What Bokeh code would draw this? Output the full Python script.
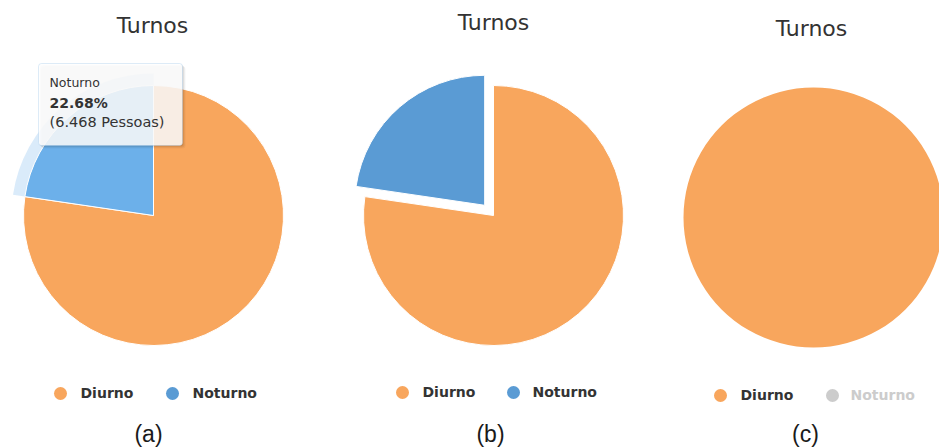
import numpy as np
from bokeh.plotting import figure
from bokeh.models import ColumnDataSource, Range1d, Label, BoxAnnotation
from bokeh.core.properties import value
from bokeh.embed import file_html
from bokeh.resources import INLINE

# --- data -------------------------------------------------------------
turnos = ["Diurno", "Noturno"]
percentuais = [77.32, 22.68]
noturno_pessoas = "6.468"
titulo = "Turnos"
legendas_paineis = ["(a)", "(b)", "(c)"]

# --- styling ----------------------------------------------------------
cores = ["#F8A65D", "#5A9BD4"]
cor_hover = "#6CB0EA"
cor_oculta = "#CCCCCC"
cor_texto = "#333333"
FONTE = "DejaVu Sans"

W, H = 939, 447
RAIO = 130
HALO = 12
DESLOC = 13.5


def Y(py):
    return H - py


# one dict per panel: pie centre, which series are visible, hover/sliced state
paineis = [
    dict(cx=153, cy=215, visible=[True, True], hover=1, sliced=None,
         title=(152, 25), leg=[(60, 80), (172, 192)], leg_y=(393, 392.5), cap=148),
    dict(cx=493, cy=215, visible=[True, True], hover=None, sliced=1,
         title=(493, 22), leg=[(402, 422), (513, 532)], leg_y=(392, 391.5), cap=490),
    dict(cx=813, cy=217, visible=[True, False], hover=None, sliced=None,
         title=(811, 28), leg=[(720, 740), (832, 850)], leg_y=(395, 394.5), cap=805),
]


def fatias(visible):
    vals = [v if vis else 0.0 for v, vis in zip(percentuais, visible)]
    total = sum(vals)
    start = np.pi / 2
    out = []
    for v in vals:
        sweep = 2 * np.pi * v / total
        out.append((start, start - sweep, v))
        start -= sweep
    return out


p = figure(width=W, height=H, x_range=Range1d(0, W), y_range=Range1d(0, H),
           output_backend="svg", toolbar_location=None, min_border=0,
           x_axis_type=None, y_axis_type=None)
p.grid.visible = False
p.outline_line_color = None
p.background_fill_color = "white"
p.border_fill_color = "white"

for pn in paineis:
    ang = fatias(pn["visible"])
    xs, ys, st, en, fc, la = [], [], [], [], [], []
    for i, (s, e, v) in enumerate(ang):
        if v <= 0:
            continue
        cx, cy = pn["cx"], Y(pn["cy"])
        if pn["sliced"] == i:
            mid = (s + e) / 2
            cx += DESLOC * np.cos(mid)
            cy += DESLOC * np.sin(mid)
        cor = cores[i]
        if pn["hover"] == i:
            cor = cor_hover
            p.annular_wedge(x=cx, y=cy, inner_radius=RAIO, outer_radius=RAIO + HALO,
                            start_angle=s, end_angle=e, direction="clock",
                            fill_color=cor_hover, fill_alpha=0.25, line_color=None)
        borda = 1.0
        if abs(s - e) >= 2 * np.pi - 1e-9:
            e = s - 2 * np.pi * 0.99999
            borda = 0.0
        xs.append(cx); ys.append(cy); st.append(s); en.append(e); fc.append(cor); la.append(borda)
    src = ColumnDataSource(dict(x=xs, y=ys, s=st, e=en, c=fc, la=la))
    p.wedge(x="x", y="y", radius=RAIO, start_angle="s", end_angle="e",
            direction="clock", fill_color="c", line_color="white", line_width=1,
            line_alpha="la", source=src)

    # title
    p.text(x=[pn["title"][0]], y=[Y(pn["title"][1])], text=[titulo],
           text_font=value(FONTE), text_font_size="22px", text_color=cor_texto,
           text_align="center", text_baseline="alphabetic")

    # legend
    cy_m, cy_t = pn["leg_y"]
    lcor = [cores[i] if pn["visible"][i] else cor_oculta for i in range(len(turnos))]
    tcor = [cor_texto if pn["visible"][i] else cor_oculta for i in range(len(turnos))]
    p.scatter(x=[m for m, _ in pn["leg"]], y=[Y(cy_m)] * len(turnos), size=13,
              marker="circle", fill_color=lcor, line_color=None)
    p.text(x=[t for _, t in pn["leg"]], y=[Y(cy_t)] * len(turnos), text=turnos,
           text_font=value(FONTE), text_font_size="14px", text_font_style="bold",
           text_color=tcor, text_baseline="alphabetic")

# panel captions
p.text(x=[pn["cap"] for pn in paineis], y=[Y(433)] * 3, text=legendas_paineis,
       text_font=value("Liberation Sans"), text_font_size="23px", text_color="#1a1a1a",
       text_align="center", text_baseline="alphabetic")

# tooltip for the hovered Noturno slice
tl, tr, tt, tb = 38, 182, 63, 145
for off, a in [(3, 0.04), (2, 0.06), (1, 0.08)]:
    p.add_layout(BoxAnnotation(left=tl + off, right=tr + off, top=Y(tt + off), bottom=Y(tb + off),
                               fill_color="black", fill_alpha=a, line_color=None,
                               border_radius=3))
p.add_layout(BoxAnnotation(left=tl, right=tr, top=Y(tt), bottom=Y(tb),
                           fill_color="white", fill_alpha=0.85,
                           line_color="#8DBDE6", line_width=1, border_radius=3))
p.add_layout(Label(x=49, y=Y(89), text=turnos[1], text_font=FONTE,
                   text_font_size="12.5px", text_color=cor_texto))
p.add_layout(Label(x=49, y=Y(110), text=f"{percentuais[1]:.2f}%", text_font=FONTE,
                   text_font_size="14px", text_font_style="bold", text_color=cor_texto))
p.add_layout(Label(x=49, y=Y(129), text=f"({noturno_pessoas} Pessoas)", text_font=FONTE,
                   text_font_size="14.5px", text_color=cor_texto))

open("out.html", "w").write(file_html(p, INLINE))
